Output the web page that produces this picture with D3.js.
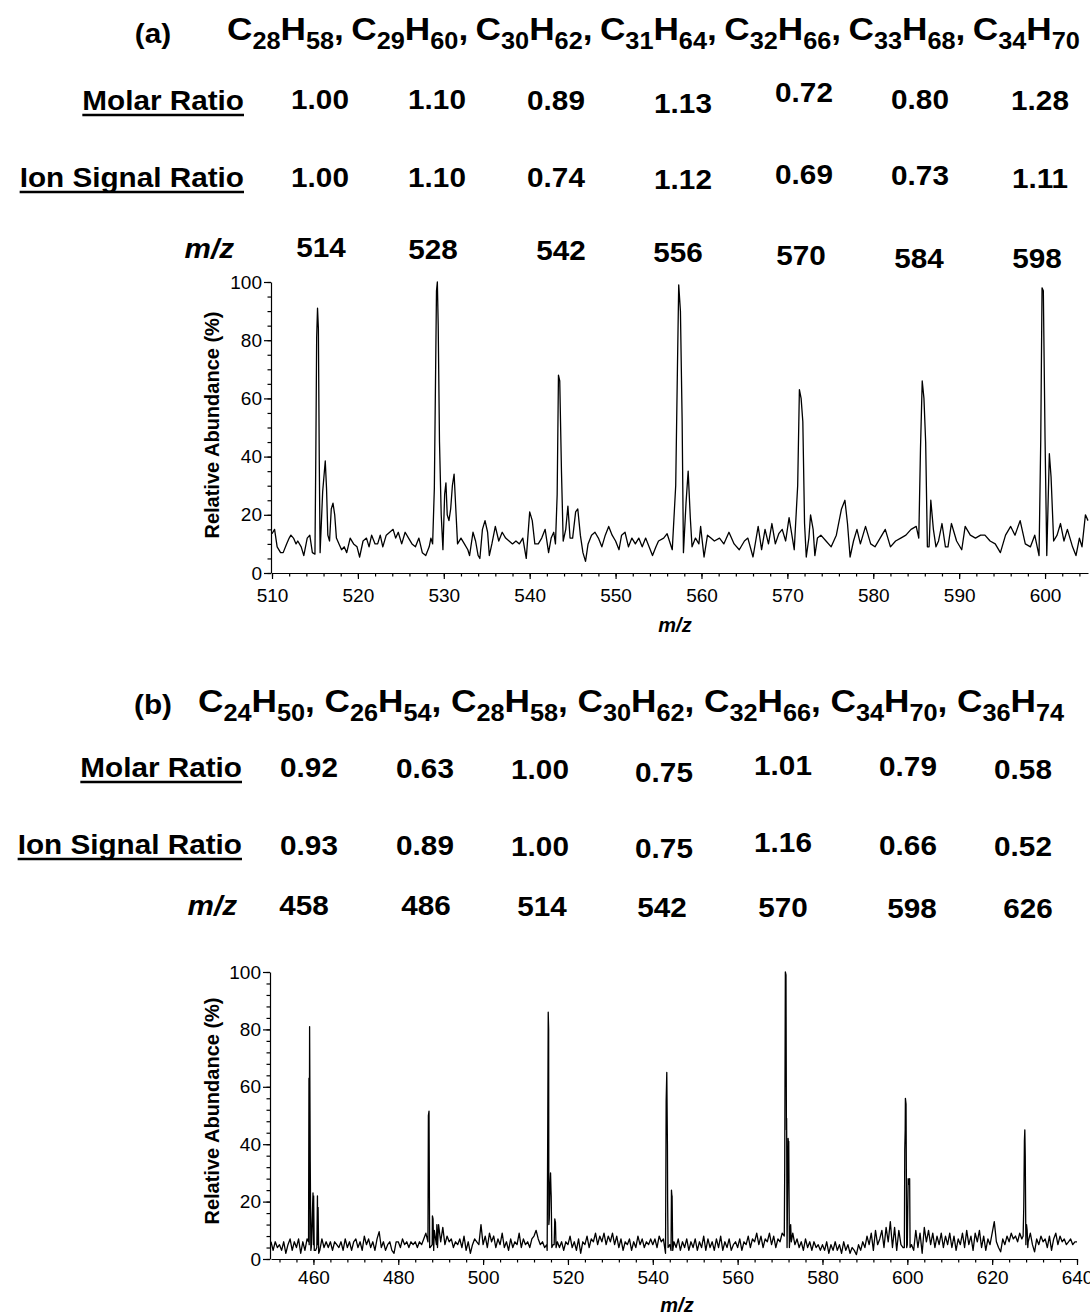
<!DOCTYPE html>
<html>
<head>
<meta charset="utf-8">
<script src="https://cdn.jsdelivr.net/npm/d3@7"></script>
<style>
  body { margin: 0; background: #fff; }
  svg { display: block; font-family: "Liberation Sans", Arial, sans-serif; }
</style>
</head>
<body>
<div id="chart"></div>
<script>
// ---- panel (a): C28 - C34 ----
const carbonA = [28, 29, 30, 31, 32, 33, 34];
const hydrogenA = [58, 60, 62, 64, 66, 68, 70];
const molarA = [1.00, 1.10, 0.89, 1.13, 0.72, 0.80, 1.28];
const ionA = [1.00, 1.10, 0.74, 1.12, 0.69, 0.73, 1.11];
const mzA = [514, 528, 542, 556, 570, 584, 598];

// [m/z, relative abundance %]
const spectrumA = [
  [510.0,13.5],[510.3,15],[510.6,9],[511.0,7],[511.3,7],[511.7,10],[512.0,12],[512.2,13],[512.5,12],[512.8,10],
  [513.0,11],[513.4,9],[513.7,6],[514.1,12],[514.4,13],[514.7,7],[515.0,6.5],[515.1,40],[515.2,81],[515.3,91],
  [515.4,84],[515.5,40],[515.6,7],[515.9,28],[516.2,38.5],[516.35,29],[516.5,13],[516.7,11],[516.9,22],[517.1,24],
  [517.3,20],[517.5,12],[517.8,10],[518.1,8],[518.4,9],[518.7,7],[519.1,12],[519.5,10],[519.9,9],[520.2,5.5],
  [520.6,11],[521.0,12],[521.3,9],[521.6,13],[522.0,10],[522.3,10],[522.6,13],[522.9,9],[523.3,13],[523.7,14],
  [524.1,15],[524.4,12],[524.7,14],[525.1,10],[525.5,14],[525.9,12],[526.3,10],[526.7,9],[527.1,12],[527.5,7],
  [527.9,6],[528.3,9],[528.5,12],[528.7,10],[528.9,29],[529.05,70],[529.15,97],[529.25,100],[529.35,85],[529.5,45],
  [529.7,20],[529.9,8],[530.1,27],[530.25,31],[530.4,20],[530.6,18],[530.8,22],[531.0,30],[531.2,34],[531.4,22],
  [531.6,10],[532.0,12],[532.4,10],[532.8,8],[533.0,6],[533.4,14],[533.7,11],[534.0,6],[534.2,5],[534.5,15],
  [534.8,18],[535.1,14],[535.3,6],[535.6,10],[536.0,16],[536.4,11],[536.8,14],[537.2,12],[537.6,11],[538.0,10],
  [538.4,11],[538.8,10],[539.2,12],[539.6,5],[540.0,21],[540.3,18],[540.6,10],[541.0,10],[541.4,12],[541.8,15],
  [542.2,7],[542.5,12],[542.8,14],[543.0,10],[543.2,27],[543.35,68],[543.5,66],[543.7,35],[543.9,11],[544.2,15],
  [544.45,23],[544.7,12],[545.0,12],[545.35,21],[545.6,22],[545.9,13],[546.2,7],[546.5,4],[546.8,10],[547.2,13],
  [547.6,14],[548.0,12],[548.4,9],[548.8,13],[549.2,16],[549.6,13],[550.0,11],[550.4,8],[550.7,13],[551.1,14],
  [551.5,9],[551.9,12],[552.3,10],[552.7,12],[553.1,9],[553.5,12],[553.9,9],[554.3,6],[554.7,9],[555.0,11],
  [555.6,12],[556.0,13.5],[556.6,8],[557.0,30],[557.2,70],[557.35,99],[557.55,90],[557.75,52],[557.9,7],[558.2,24],
  [558.45,35],[558.7,19],[558.9,9],[559.3,12],[559.7,10],[559.9,16],[560.3,5.5],[560.7,13],[561.1,12],[561.5,11],
  [562.1,12],[562.6,10],[563.2,14],[563.8,10],[564.4,8],[565.0,11],[565.4,12],[566.0,5.5],[566.6,16],[567.0,8],
  [567.4,15],[567.8,10],[568.2,17],[568.6,10],[569.0,13.5],[569.4,15],[569.8,11],[570.2,19],[570.8,8],[571.2,30],
  [571.4,63],[571.6,60],[571.8,52],[572.0,17],[572.2,5.5],[572.5,12],[572.7,20],[573.0,15],[573.2,6],[573.5,12],
  [573.9,13],[574.5,11],[575.1,9],[575.7,13],[576.3,22],[576.7,25],[577.0,17],[577.3,5.5],[577.7,11],[578.1,15],
  [578.5,10],[579.1,16],[579.7,10],[580.2,9],[580.8,12],[581.4,15],[582.0,9],[582.6,11],[583.2,12],[583.8,13],
  [584.4,15],[585.0,16],[585.3,12],[585.5,43],[585.7,66],[585.9,60],[586.1,45],[586.3,9],[586.5,9],[586.7,25],
  [587.0,15],[587.3,9],[587.6,11],[588.0,17],[588.4,9],[588.7,9],[589.1,17],[589.7,11],[590.3,8],[590.7,16],
  [591.3,13],[591.9,12],[592.5,13],[593.0,13],[593.6,11],[594.2,10],[594.8,7],[595.4,13],[596.0,16],[596.5,13],
  [597.1,18],[597.7,10],[598.3,9],[598.8,13],[599.3,6],[599.5,46],[599.65,98],[599.8,97],[600.0,46],[600.2,6],
  [600.5,41],[600.7,33],[601.0,11],[601.4,13],[601.8,17],[602.2,11],[602.6,15],[603.2,9],[603.6,6],[604.0,12],
  [604.3,9],[604.7,20],[605.0,18]
];

// ---- panel (b): C24 - C36 ----
const carbonB = [24, 26, 28, 30, 32, 34, 36];
const hydrogenB = [50, 54, 58, 62, 66, 70, 74];
const molarB = [0.92, 0.63, 1.00, 0.75, 1.01, 0.79, 0.58];
const ionB = [0.93, 0.89, 1.00, 0.75, 1.16, 0.66, 0.52];
const mzB = [458, 486, 514, 542, 570, 598, 626];

// baseline trace, one reading every 0.5 m/z from 450 to 640
const noiseStartB = 450;
const noiseStepB = 0.5;
const noiseB = [
  6,3,6,4,5,3,6,2,5,7,3,6,4,7,2,6,3,7,5,4,
  5,3,5,3,7,4,6,4,6,3,6,5,4,6,3,7,4,6,3,6,
  7,4,6,3,8,5,7,4,6,3,7,9.5,4,6,3,5,6,3,2,6,
  6,4,7,5,6,4,6,5,6,4,6,5,7,9,6,4,5,10,5,12,
  6,11,5,8,6,7,4,6,5,7,4,8,3,6,2,5,7,6,5,12,
  5,8,4,9,6,8,4,7,5,9,4,6,3,7,4,6,5,9,4,7,
  5,6,4,7,8,10,7,5,6,4,5,12,24,5,13,6,4,6,3,6,
  5,8,4,6,3,7,2,6,5,8,4,7,6,9,5,8,6,9,5,8,
  6,9,5,8,4,7,3,6,5,7,3,6,4,8,5,7,4,6,5,7,
  5,7,4,8,6,7,2,20,5,22,6,4,7,3,6,4,7,3,6,4,
  7,3,6,4,8,3,7,4,6,3,7,4,8,3,6,4,7,3,5,6,
  4,7,3,6,5,8,4,7,6,9,5,8,4,7,6,9,5,8,4,7,
  6,9,8,45,40,12,9,5,7,4,6,3,7,4,6,3,6,4,5,3,
  5,3,6,2,5,3,6,3,5,2,6,3,5,2,4,3,1.5,5,3,6,
  4,8,5,9,3,10,5,7,10,4,11,6,13,4,11,3,10,5,4,45,
  5,27,5,3,10,4,9,2,11,6,10,5,9,4,8,5,9,4,8,5,
  9,4,8,3,7,5,9,4,10,5,8,3,9,6,10,4,8,3,7,5,
  9,13,6,4,2.5,7,5,8,6,9,7,8,6,9,7,25,12,6,9,5,
  2.5,7,5,8,6,7,4,8,3,7,9,5,8,6,7,5,6,7,5,6,
  6
];

// peak clusters [m/z, %]
const peaksB = [
  [458.85,6],[458.95,63],[459.1,81],[459.25,34],[459.4,3],[459.9,23],[460.05,22],[460.2,3],[460.8,4],[460.95,22],[461.1,18],[461.25,2],
  [487.1,50],[487.25,51.5],[487.4,4],[488.05,15],[488.2,14],[488.35,3],[489.1,12],[489.25,4],
  [515.1,3],[515.25,50],[515.35,86],[515.45,80],[515.6,14],[515.75,25],[515.9,30],[516.05,22],[516.2,4],[516.75,5],[516.9,14],[517.05,13],[517.2,4],
  [543.15,55],[543.3,65],[543.45,40],[543.6,4],[544.3,3],[544.4,24],[544.55,22],[544.7,3],
  [571.1,32],[571.25,100],[571.4,99],[571.55,49],[571.65,4],[571.9,42],[572.05,41],[572.2,4],[572.65,6],
  [599.3,4],[599.4,38],[599.55,56],[599.7,54],[599.85,4],[600.2,28],[600.35,26],[600.55,28],[600.65,4],
  [627.3,8],[627.45,18],[627.6,41],[627.7,45],[627.8,36],[627.95,5],[628.1,12],[628.25,10],[628.4,4]
];

const spectrumB = noiseB.map((v, i) => [noiseStartB + i * noiseStepB, v])
  .concat(peaksB)
  .sort((a, b) => a[0] - b[0]);

// ---- layout ----
const W = 1090, H = 1316;
const FONT = '"Liberation Sans", Arial, sans-serif';
const SX = 1.1; // header lettering is a little wide

const panels = [
  {
    tag: "(a)", carbon: carbonA, hydrogen: hydrogenA, molar: molarA, ion: ionA, mz: mzA, spectrum: spectrumA,
    tagX: 153, tagY: 43, formulaX: 227, formulaStep: 124.3, formulaY: 40,
    rowLabelRight: 244, molarLabelY: 110, ionLabelY: 187, mzLabelRight: 234, mzLabelY: 258,
    valueX: [320, 437, 556, 683, 804, 920, 1040],
    molarY: [109, 109, 110, 113, 102, 109, 110],
    ionY: [187, 187, 187, 189, 184, 185, 188],
    mzX: [321, 433, 561, 678, 801, 919, 1037],
    mzY: [257, 259, 260, 262, 265, 268, 268],
    plot: {left: 272, right: 1088, top: 282, bottom: 573},
    xDomain: [510, 605], xMajor: d3.range(510, 601, 10), xMinor: d3.range(510, 605.1, 2),
    yMinor: d3.range(0, 100.1, 5), xPad: 10, xTitleY: 632, yTitleY: 425
  },
  {
    tag: "(b)", carbon: carbonB, hydrogen: hydrogenB, molar: molarB, ion: ionB, mz: mzB, spectrum: spectrumB,
    tagX: 153, tagY: 714, formulaX: 198, formulaStep: 126.5, formulaY: 712,
    rowLabelRight: 242, molarLabelY: 777, ionLabelY: 854, mzLabelRight: 237, mzLabelY: 915,
    valueX: [309, 425, 540, 664, 783, 908, 1023],
    molarY: [777, 778, 779, 782, 775, 776, 779],
    ionY: [855, 855, 856, 858, 852, 855, 856],
    mzX: [304, 426, 542, 662, 783, 912, 1028],
    mzY: [915, 915, 916, 917, 917, 918, 918],
    plot: {left: 271, right: 1077, top: 972, bottom: 1259},
    xDomain: [450, 640], xMajor: d3.range(460, 641, 20), xMinor: d3.range(452, 640.1, 4),
    yMinor: d3.range(0, 100.1, 4), xPad: 6, xTitleY: 1312, yTitleY: 1111
  }
];

const svg = d3.select("#chart").append("svg")
  .attr("width", W)
  .attr("height", H)
  .attr("viewBox", `0 0 ${W} ${H}`);

const fmt = d3.format(".2f");

panels.forEach(p => drawPanel(p));

function drawPanel(p) {
  const g = svg.append("g");

  // panel tag
  g.append("text")
    .attr("transform", `translate(${p.tagX},${p.tagY}) scale(${SX},1)`)
    .attr("text-anchor", "middle")
    .attr("font-size", 27).attr("font-weight", "bold")
    .text(p.tag);

  // formulas CnH2n+2 with subscripts
  const formulas = g.selectAll(".formula")
    .data(p.carbon.map((c, i) => ({c: c, h: p.hydrogen[i], last: i === p.carbon.length - 1})))
    .join("text")
    .attr("class", "formula")
    .attr("transform", (d, i) => `translate(${p.formulaX + i * p.formulaStep},${p.formulaY}) scale(${SX},1)`)
    .attr("font-size", 32).attr("font-weight", "bold");
  formulas.each(function(d) {
    const t = d3.select(this);
    t.append("tspan").text("C");
    t.append("tspan").attr("dy", 9).attr("font-size", 23).text(d.c);
    t.append("tspan").attr("dy", -9).text("H");
    t.append("tspan").attr("dy", 9).attr("font-size", 23).text(d.h);
    if (!d.last) t.append("tspan").attr("dy", -9).text(",");
  });

  // row labels
  const rowLabel = (txt, y, underline) => {
    const t = g.append("text")
      .attr("transform", `translate(${p.rowLabelRight},${y}) scale(${SX},1)`)
      .attr("text-anchor", "end")
      .attr("font-size", 27).attr("font-weight", "bold")
      .text(txt);
    if (underline) {
      const w = t.node().getComputedTextLength() * SX;
      g.append("line")
        .attr("x1", p.rowLabelRight - w).attr("x2", p.rowLabelRight)
        .attr("y1", y + 5).attr("y2", y + 5)
        .attr("stroke", "#000").attr("stroke-width", 2.5);
    }
  };
  rowLabel("Molar Ratio", p.molarLabelY, true);
  rowLabel("Ion Signal Ratio", p.ionLabelY, true);
  g.append("text")
    .attr("transform", `translate(${p.mzLabelRight},${p.mzLabelY}) scale(${SX},1)`)
    .attr("text-anchor", "end")
    .attr("font-size", 27).attr("font-weight", "bold").attr("font-style", "italic")
    .text("m/z");

  // ratio / mass rows
  const row = (vals, xs, ys, f) => g.append("g").selectAll("text")
    .data(vals)
    .join("text")
    .attr("transform", (d, i) => `translate(${xs[i]},${ys[i]}) scale(${SX},1)`)
    .attr("text-anchor", "middle")
    .attr("font-size", 27).attr("font-weight", "bold")
    .text(f);
  row(p.molar, p.valueX, p.molarY, fmt);
  row(p.ion, p.valueX, p.ionY, fmt);
  row(p.mz, p.mzX, p.mzY, d => d);

  // spectrum
  const x = d3.scaleLinear().domain(p.xDomain).range([p.plot.left, p.plot.right]);
  const y = d3.scaleLinear().domain([0, 100]).range([p.plot.bottom, p.plot.top]);

  const xAxis = g.append("g").attr("transform", `translate(0,${p.plot.bottom})`)
    .call(d3.axisBottom(x).tickValues(p.xMajor).tickSize(6).tickSizeOuter(0).tickPadding(p.xPad));
  g.append("g").attr("transform", `translate(0,${p.plot.bottom})`)
    .call(d3.axisBottom(x).tickValues(p.xMinor).tickSize(3.5).tickSizeOuter(0).tickFormat(""))
    .select(".domain").remove();

  const yAxis = g.append("g").attr("transform", `translate(${p.plot.left - 1},0)`)
    .call(d3.axisLeft(y).tickValues(d3.range(0, 101, 20)).tickSize(7).tickSizeOuter(0).tickPadding(2));
  g.append("g").attr("transform", `translate(${p.plot.left - 1},0)`)
    .call(d3.axisLeft(y).tickValues(p.yMinor).tickSize(3.5).tickSizeOuter(0).tickFormat(""))
    .select(".domain").remove();

  [xAxis, yAxis].forEach(a => a
    .attr("font-family", FONT).attr("font-size", 19)
    .selectAll("text").attr("fill", "#000"));
  g.selectAll(".domain, .tick line").attr("stroke", "#000").attr("stroke-width", 1.2);

  g.append("path")
    .datum(p.spectrum)
    .attr("fill", "none")
    .attr("stroke", "#000")
    .attr("stroke-width", 1.3)
    .attr("stroke-linejoin", "round")
    .attr("d", d3.line().x(d => x(d[0])).y(d => y(d[1])));

  // axis titles
  g.append("text")
    .attr("transform", `translate(212,${p.yTitleY}) rotate(-90)`)
    .attr("text-anchor", "middle").attr("dominant-baseline", "central")
    .attr("font-size", 20).attr("font-weight", "bold")
    .text("Relative Abundance (%)");
  g.append("text")
    .attr("x", (p.plot.left + p.plot.right) / 2 + (p.tag === "(a)" ? -5 : 3))
    .attr("y", p.xTitleY)
    .attr("text-anchor", "middle")
    .attr("font-size", 20).attr("font-weight", "bold").attr("font-style", "italic")
    .text("m/z");
}
</script>
</body>
</html>
